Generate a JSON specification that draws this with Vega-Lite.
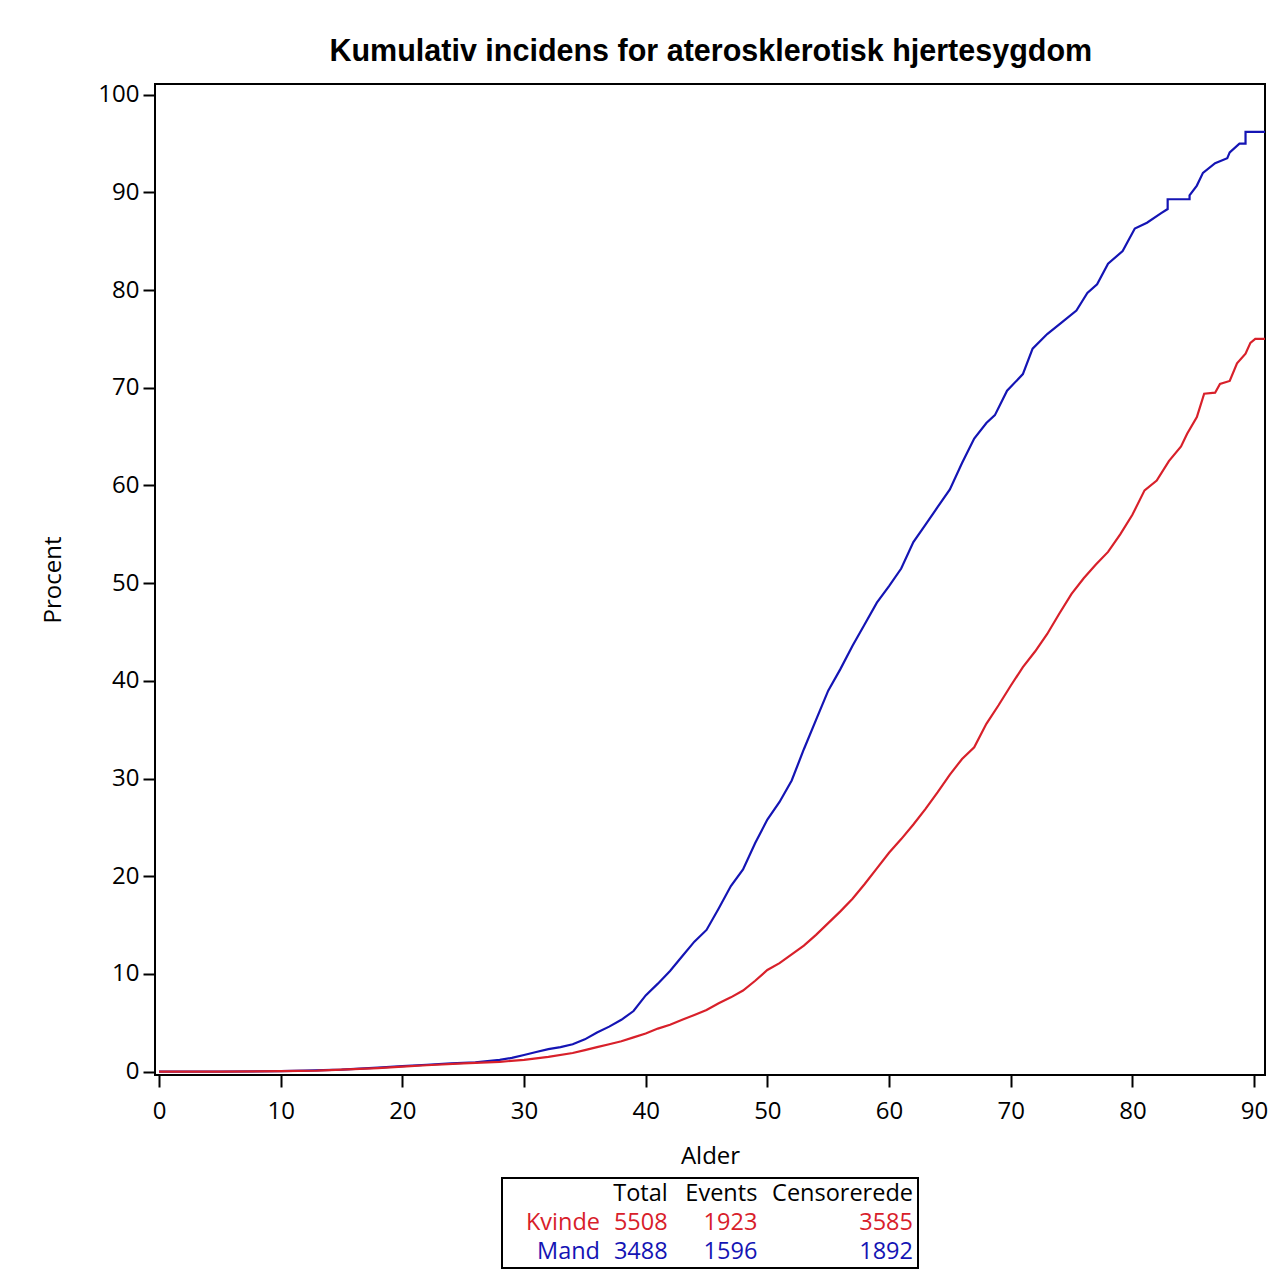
{
  "$schema": "https://vega.github.io/schema/vega-lite/v6.json",
  "padding": {"left": 40, "top": 37, "right": 0, "bottom": 0},
  "background": "white",
  "title": {"text": "Kumulativ incidens for aterosklerotisk hjertesygdom", "font": "Liberation Sans", "fontSize": 30.5, "fontWeight": "bold", "color": "black", "anchor": "middle", "offset": 14, "dx": 56},
  "bounds": "flush",
  "center": true,
  "spacing": 103,
  "resolve": {"scale": {"color": "independent"}},
  "datasets": {
    "curves": [
      {"sex": "Mand", "age": 0, "pct": 0}, {"sex": "Mand", "age": 5, "pct": 0}, {"sex": "Mand", "age": 10, "pct": 0.05}, {"sex": "Mand", "age": 12, "pct": 0.1}, {"sex": "Mand", "age": 15, "pct": 0.2}, {"sex": "Mand", "age": 18, "pct": 0.4}, {"sex": "Mand", "age": 20, "pct": 0.55}, {"sex": "Mand", "age": 22, "pct": 0.7}, {"sex": "Mand", "age": 24, "pct": 0.85}, {"sex": "Mand", "age": 26, "pct": 0.95}, {"sex": "Mand", "age": 28, "pct": 1.2}, {"sex": "Mand", "age": 29, "pct": 1.4}, {"sex": "Mand", "age": 30, "pct": 1.7}, {"sex": "Mand", "age": 31, "pct": 2.0}, {"sex": "Mand", "age": 32, "pct": 2.3}, {"sex": "Mand", "age": 33, "pct": 2.5}, {"sex": "Mand", "age": 34, "pct": 2.8}, {"sex": "Mand", "age": 35, "pct": 3.3}, {"sex": "Mand", "age": 36, "pct": 4.0}, {"sex": "Mand", "age": 37, "pct": 4.6}, {"sex": "Mand", "age": 38, "pct": 5.3}, {"sex": "Mand", "age": 39, "pct": 6.2}, {"sex": "Mand", "age": 40, "pct": 7.8}, {"sex": "Mand", "age": 41, "pct": 9.0}, {"sex": "Mand", "age": 42, "pct": 10.3}, {"sex": "Mand", "age": 43, "pct": 11.8}, {"sex": "Mand", "age": 44, "pct": 13.3}, {"sex": "Mand", "age": 45, "pct": 14.5}, {"sex": "Mand", "age": 46, "pct": 16.7}, {"sex": "Mand", "age": 47, "pct": 19.0}, {"sex": "Mand", "age": 48, "pct": 20.7}, {"sex": "Mand", "age": 49, "pct": 23.4}, {"sex": "Mand", "age": 50, "pct": 25.8}, {"sex": "Mand", "age": 51, "pct": 27.6}, {"sex": "Mand", "age": 52, "pct": 29.8}, {"sex": "Mand", "age": 53, "pct": 33.0}, {"sex": "Mand", "age": 54, "pct": 36.0}, {"sex": "Mand", "age": 55, "pct": 39.0}, {"sex": "Mand", "age": 56, "pct": 41.2}, {"sex": "Mand", "age": 57, "pct": 43.6}, {"sex": "Mand", "age": 58, "pct": 45.8}, {"sex": "Mand", "age": 59, "pct": 48.0}, {"sex": "Mand", "age": 60, "pct": 49.7}, {"sex": "Mand", "age": 61, "pct": 51.5}, {"sex": "Mand", "age": 62, "pct": 54.2}, {"sex": "Mand", "age": 63, "pct": 56.0}, {"sex": "Mand", "age": 64, "pct": 57.8}, {"sex": "Mand", "age": 65, "pct": 59.6}, {"sex": "Mand", "age": 66, "pct": 62.3}, {"sex": "Mand", "age": 67, "pct": 64.8}, {"sex": "Mand", "age": 68, "pct": 66.4}, {"sex": "Mand", "age": 68.7, "pct": 67.2}, {"sex": "Mand", "age": 69.7, "pct": 69.7}, {"sex": "Mand", "age": 71.0, "pct": 71.4}, {"sex": "Mand", "age": 71.8, "pct": 74.0}, {"sex": "Mand", "age": 73.0, "pct": 75.5}, {"sex": "Mand", "age": 74.2, "pct": 76.7}, {"sex": "Mand", "age": 75.4, "pct": 77.9}, {"sex": "Mand", "age": 76.3, "pct": 79.7}, {"sex": "Mand", "age": 77.1, "pct": 80.6}, {"sex": "Mand", "age": 78.0, "pct": 82.7}, {"sex": "Mand", "age": 79.2, "pct": 84.0}, {"sex": "Mand", "age": 80.2, "pct": 86.3}, {"sex": "Mand", "age": 81.2, "pct": 86.9}, {"sex": "Mand", "age": 82.4, "pct": 87.9}, {"sex": "Mand", "age": 82.9, "pct": 88.3}, {"sex": "Mand", "age": 82.9, "pct": 89.3}, {"sex": "Mand", "age": 84.7, "pct": 89.3}, {"sex": "Mand", "age": 84.7, "pct": 89.7}, {"sex": "Mand", "age": 85.3, "pct": 90.7}, {"sex": "Mand", "age": 85.8, "pct": 92.0}, {"sex": "Mand", "age": 86.8, "pct": 93.0}, {"sex": "Mand", "age": 87.8, "pct": 93.5}, {"sex": "Mand", "age": 88.0, "pct": 94.1}, {"sex": "Mand", "age": 88.8, "pct": 95.0}, {"sex": "Mand", "age": 89.3, "pct": 95.0}, {"sex": "Mand", "age": 89.3, "pct": 96.2}, {"sex": "Mand", "age": 90.9, "pct": 96.2},
      {"sex": "Kvinde", "age": 0, "pct": 0}, {"sex": "Kvinde", "age": 5, "pct": 0}, {"sex": "Kvinde", "age": 10, "pct": 0.05}, {"sex": "Kvinde", "age": 13, "pct": 0.1}, {"sex": "Kvinde", "age": 15, "pct": 0.2}, {"sex": "Kvinde", "age": 18, "pct": 0.35}, {"sex": "Kvinde", "age": 20, "pct": 0.5}, {"sex": "Kvinde", "age": 22, "pct": 0.65}, {"sex": "Kvinde", "age": 25, "pct": 0.85}, {"sex": "Kvinde", "age": 28, "pct": 1.0}, {"sex": "Kvinde", "age": 30, "pct": 1.2}, {"sex": "Kvinde", "age": 32, "pct": 1.5}, {"sex": "Kvinde", "age": 34, "pct": 1.9}, {"sex": "Kvinde", "age": 35, "pct": 2.2}, {"sex": "Kvinde", "age": 36, "pct": 2.5}, {"sex": "Kvinde", "age": 37, "pct": 2.8}, {"sex": "Kvinde", "age": 38, "pct": 3.1}, {"sex": "Kvinde", "age": 39, "pct": 3.5}, {"sex": "Kvinde", "age": 40, "pct": 3.9}, {"sex": "Kvinde", "age": 41, "pct": 4.4}, {"sex": "Kvinde", "age": 42, "pct": 4.8}, {"sex": "Kvinde", "age": 43, "pct": 5.3}, {"sex": "Kvinde", "age": 44, "pct": 5.8}, {"sex": "Kvinde", "age": 45, "pct": 6.3}, {"sex": "Kvinde", "age": 46, "pct": 7.0}, {"sex": "Kvinde", "age": 47, "pct": 7.6}, {"sex": "Kvinde", "age": 48, "pct": 8.3}, {"sex": "Kvinde", "age": 49, "pct": 9.3}, {"sex": "Kvinde", "age": 50, "pct": 10.4}, {"sex": "Kvinde", "age": 51, "pct": 11.1}, {"sex": "Kvinde", "age": 52, "pct": 12.0}, {"sex": "Kvinde", "age": 53, "pct": 12.9}, {"sex": "Kvinde", "age": 54, "pct": 14.0}, {"sex": "Kvinde", "age": 55, "pct": 15.2}, {"sex": "Kvinde", "age": 56, "pct": 16.4}, {"sex": "Kvinde", "age": 57, "pct": 17.7}, {"sex": "Kvinde", "age": 58, "pct": 19.2}, {"sex": "Kvinde", "age": 59, "pct": 20.8}, {"sex": "Kvinde", "age": 60, "pct": 22.4}, {"sex": "Kvinde", "age": 61, "pct": 23.8}, {"sex": "Kvinde", "age": 62, "pct": 25.3}, {"sex": "Kvinde", "age": 63, "pct": 26.9}, {"sex": "Kvinde", "age": 64, "pct": 28.6}, {"sex": "Kvinde", "age": 65, "pct": 30.4}, {"sex": "Kvinde", "age": 66, "pct": 32.0}, {"sex": "Kvinde", "age": 67, "pct": 33.2}, {"sex": "Kvinde", "age": 68, "pct": 35.6}, {"sex": "Kvinde", "age": 69, "pct": 37.5}, {"sex": "Kvinde", "age": 70, "pct": 39.5}, {"sex": "Kvinde", "age": 71, "pct": 41.4}, {"sex": "Kvinde", "age": 72, "pct": 43.0}, {"sex": "Kvinde", "age": 73, "pct": 44.8}, {"sex": "Kvinde", "age": 74, "pct": 46.9}, {"sex": "Kvinde", "age": 75, "pct": 48.9}, {"sex": "Kvinde", "age": 76, "pct": 50.5}, {"sex": "Kvinde", "age": 77, "pct": 51.9}, {"sex": "Kvinde", "age": 78, "pct": 53.2}, {"sex": "Kvinde", "age": 79, "pct": 55.0}, {"sex": "Kvinde", "age": 80, "pct": 57.0}, {"sex": "Kvinde", "age": 81, "pct": 59.5}, {"sex": "Kvinde", "age": 82, "pct": 60.5}, {"sex": "Kvinde", "age": 83, "pct": 62.5}, {"sex": "Kvinde", "age": 84, "pct": 64.0}, {"sex": "Kvinde", "age": 84.5, "pct": 65.3}, {"sex": "Kvinde", "age": 85.3, "pct": 67.0}, {"sex": "Kvinde", "age": 85.9, "pct": 69.4}, {"sex": "Kvinde", "age": 86.8, "pct": 69.5}, {"sex": "Kvinde", "age": 87.2, "pct": 70.4}, {"sex": "Kvinde", "age": 88.0, "pct": 70.7}, {"sex": "Kvinde", "age": 88.6, "pct": 72.5}, {"sex": "Kvinde", "age": 89.3, "pct": 73.5}, {"sex": "Kvinde", "age": 89.7, "pct": 74.6}, {"sex": "Kvinde", "age": 90.1, "pct": 75.0}, {"sex": "Kvinde", "age": 90.9, "pct": 75.0}
    ],
    "table": [
      {"row": "header", "col": "Total", "text": "Total"},
      {"row": "header", "col": "Events", "text": "Events"},
      {"row": "header", "col": "Censorerede", "text": "Censorerede"},
      {"row": "Kvinde", "col": "label", "text": "Kvinde"},
      {"row": "Kvinde", "col": "Total", "text": "5508"},
      {"row": "Kvinde", "col": "Events", "text": "1923"},
      {"row": "Kvinde", "col": "Censorerede", "text": "3585"},
      {"row": "Mand", "col": "label", "text": "Mand"},
      {"row": "Mand", "col": "Total", "text": "3488"},
      {"row": "Mand", "col": "Events", "text": "1596"},
      {"row": "Mand", "col": "Censorerede", "text": "1892"}
    ]
  },
  "vconcat": [
    {
      "width": 1110,
      "height": 991,
      "data": {"name": "curves"},
      "mark": {"type": "line", "strokeWidth": 2.2, "interpolate": "linear", "clip": true},
      "encoding": {
        "x": {"field": "age", "type": "quantitative", "title": "Alder",
          "scale": {"domain": [-0.33, 90.9], "nice": false, "zero": false},
          "axis": {"values": [0, 10, 20, 30, 40, 50, 60, 70, 80, 90], "labelPadding": 12, "titlePadding": 21}},
        "y": {"field": "pct", "type": "quantitative", "title": "Procent",
          "scale": {"domain": [-0.35, 101.1], "nice": false, "zero": false},
          "axis": {"values": [0, 10, 20, 30, 40, 50, 60, 70, 80, 90, 100], "labelPadding": 4, "titlePadding": 32}},
        "color": {"field": "sex", "type": "nominal", "scale": {"domain": ["Kvinde", "Mand"], "range": ["#d8202a", "#1414b4"]}, "legend": null},
        "order": {"field": "age", "type": "quantitative"}
      }
    },
    {
      "width": 416,
      "height": 90,
      "data": {"name": "table"},
      "encoding": {
        "y": {"field": "row", "type": "nominal", "scale": {"type": "point", "domain": ["header", "Kvinde", "Mand"], "padding": 0.55}, "axis": null},
        "x": {"field": "col", "type": "nominal", "scale": {"type": "point", "domain": ["label", "Total", "Events", "Censorerede"], "padding": 0}, "axis": null},
        "color": {"field": "row", "type": "nominal", "scale": {"domain": ["header", "Kvinde", "Mand"], "range": ["#000000", "#d8202a", "#1414b4"]}, "legend": null},
        "text": {"field": "text", "type": "nominal"}
      },
      "layer": [
        {"transform": [{"filter": "datum.col === 'label'"}], "mark": {"type": "text", "align": "right", "baseline": "middle", "fontSize": 23.5, "font": "Open Sans", "dx": 98}},
        {"transform": [{"filter": "datum.col === 'Total'"}], "mark": {"type": "text", "align": "right", "baseline": "middle", "fontSize": 23.5, "font": "Open Sans", "dx": 27}},
        {"transform": [{"filter": "datum.col === 'Events'"}], "mark": {"type": "text", "align": "right", "baseline": "middle", "fontSize": 23.5, "font": "Open Sans", "dx": -22}},
        {"transform": [{"filter": "datum.col === 'Censorerede'"}], "mark": {"type": "text", "align": "right", "baseline": "middle", "fontSize": 23.5, "font": "Open Sans", "dx": -5}}
      ]
    }
  ],
  "config": {
    "view": {"stroke": "black", "strokeWidth": 2},
    "axis": {"grid": false, "domain": false, "ticks": true, "tickColor": "black", "tickWidth": 2, "tickSize": 12,
      "labelFont": "Open Sans", "labelFontSize": 24, "labelColor": "black",
      "titleFont": "Open Sans", "titleFontSize": 24, "titleFontWeight": "normal", "titleColor": "black"}
  }
}
